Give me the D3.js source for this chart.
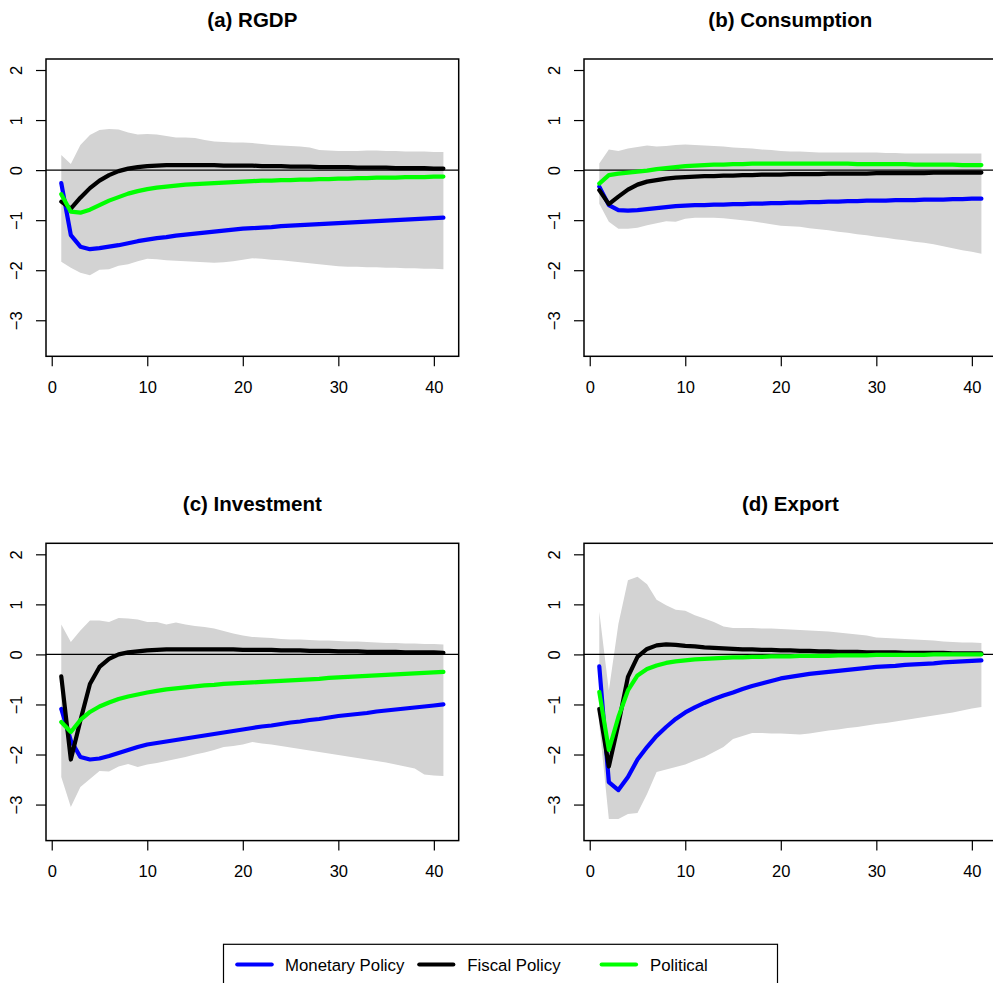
<!DOCTYPE html>
<html>
<head>
<meta charset="utf-8">
<script src="https://cdn.jsdelivr.net/npm/d3@7"></script>
<style>
  html, body { margin: 0; padding: 0; background: #ffffff; }
  svg { display: block; font-family: "Liberation Sans", Arial, Helvetica, sans-serif; }
</style>
</head>
<body>
<svg id="chart" width="993" height="983"></svg>
<script>
// Impulse horizons (periods 1..41)
const horizon = d3.range(1, 42);

const yTicks = [-3, -2, -1, 0, 1, 2];
const xTicks = [0, 10, 20, 30, 40];

const seriesNames = ["Monetary Policy", "Fiscal Policy", "Political"];
const seriesColors = ["#0000ff", "#000000", "#00ff00"];

// (a) RGDP
const rgdpMonetary = [-0.26, -1.30, -1.53, -1.58, -1.56, -1.53, -1.50, -1.46, -1.42, -1.39, -1.36, -1.34, -1.31, -1.29, -1.27, -1.25, -1.23, -1.21, -1.19, -1.17, -1.16, -1.15, -1.14, -1.12, -1.11, -1.10, -1.09, -1.08, -1.07, -1.06, -1.05, -1.04, -1.03, -1.02, -1.01, -1.00, -0.99, -0.98, -0.97, -0.96, -0.95];
const rgdpFiscal = [-0.63, -0.77, -0.55, -0.36, -0.21, -0.10, -0.02, 0.03, 0.06, 0.08, 0.09, 0.10, 0.10, 0.10, 0.10, 0.10, 0.10, 0.09, 0.09, 0.09, 0.09, 0.08, 0.08, 0.08, 0.07, 0.07, 0.07, 0.06, 0.06, 0.06, 0.06, 0.05, 0.05, 0.05, 0.05, 0.04, 0.04, 0.04, 0.04, 0.03, 0.03];
const rgdpPolitical = [-0.48, -0.83, -0.85, -0.79, -0.70, -0.61, -0.54, -0.47, -0.42, -0.38, -0.35, -0.33, -0.31, -0.29, -0.28, -0.27, -0.26, -0.25, -0.24, -0.23, -0.22, -0.21, -0.21, -0.20, -0.20, -0.19, -0.19, -0.18, -0.18, -0.17, -0.17, -0.16, -0.16, -0.15, -0.15, -0.15, -0.14, -0.14, -0.14, -0.13, -0.13];
const rgdpUpper = [0.30, 0.12, 0.50, 0.70, 0.80, 0.82, 0.81, 0.75, 0.71, 0.72, 0.71, 0.68, 0.65, 0.65, 0.64, 0.60, 0.57, 0.56, 0.55, 0.55, 0.54, 0.52, 0.50, 0.49, 0.48, 0.47, 0.45, 0.40, 0.39, 0.38, 0.38, 0.38, 0.39, 0.39, 0.38, 0.38, 0.37, 0.37, 0.37, 0.36, 0.36];
const rgdpLower = [-1.83, -1.95, -2.05, -2.10, -1.99, -1.98, -1.91, -1.88, -1.82, -1.77, -1.78, -1.80, -1.81, -1.82, -1.83, -1.84, -1.85, -1.84, -1.82, -1.79, -1.76, -1.77, -1.79, -1.80, -1.82, -1.84, -1.86, -1.88, -1.90, -1.92, -1.93, -1.93, -1.94, -1.94, -1.95, -1.95, -1.96, -1.96, -1.97, -1.97, -1.98];

// (b) Consumption
const consMonetary = [-0.33, -0.70, -0.80, -0.81, -0.80, -0.78, -0.76, -0.74, -0.72, -0.71, -0.70, -0.70, -0.69, -0.69, -0.68, -0.68, -0.67, -0.67, -0.66, -0.66, -0.65, -0.65, -0.64, -0.64, -0.63, -0.63, -0.62, -0.62, -0.61, -0.61, -0.61, -0.60, -0.60, -0.60, -0.59, -0.59, -0.59, -0.58, -0.58, -0.57, -0.57];
const consFiscal = [-0.40, -0.68, -0.53, -0.39, -0.29, -0.23, -0.20, -0.17, -0.15, -0.14, -0.13, -0.12, -0.12, -0.11, -0.11, -0.10, -0.10, -0.09, -0.09, -0.09, -0.08, -0.08, -0.08, -0.08, -0.07, -0.07, -0.07, -0.07, -0.07, -0.06, -0.06, -0.06, -0.06, -0.06, -0.06, -0.05, -0.05, -0.05, -0.05, -0.05, -0.05];
const consPolitical = [-0.27, -0.10, -0.07, -0.05, -0.03, -0.01, 0.02, 0.04, 0.06, 0.08, 0.09, 0.10, 0.11, 0.11, 0.12, 0.12, 0.13, 0.13, 0.13, 0.13, 0.13, 0.13, 0.13, 0.13, 0.13, 0.13, 0.13, 0.12, 0.12, 0.12, 0.12, 0.12, 0.12, 0.11, 0.11, 0.11, 0.11, 0.11, 0.10, 0.10, 0.10];
const consUpper = [0.13, 0.41, 0.38, 0.43, 0.46, 0.49, 0.47, 0.48, 0.50, 0.51, 0.50, 0.49, 0.48, 0.47, 0.45, 0.44, 0.43, 0.41, 0.40, 0.38, 0.37, 0.37, 0.36, 0.35, 0.35, 0.35, 0.35, 0.35, 0.35, 0.35, 0.34, 0.34, 0.33, 0.33, 0.33, 0.33, 0.33, 0.33, 0.33, 0.33, 0.33];
const consLower = [-0.67, -1.03, -1.17, -1.17, -1.15, -1.10, -1.06, -1.02, -1.03, -0.97, -0.95, -0.95, -0.95, -0.96, -0.98, -1.00, -1.02, -1.05, -1.08, -1.11, -1.12, -1.13, -1.16, -1.18, -1.20, -1.23, -1.25, -1.28, -1.30, -1.33, -1.35, -1.38, -1.40, -1.43, -1.45, -1.48, -1.52, -1.56, -1.60, -1.63, -1.67];

// (c) Investment
const invMonetary = [-1.09, -1.72, -2.05, -2.10, -2.08, -2.03, -1.97, -1.91, -1.85, -1.80, -1.77, -1.74, -1.71, -1.68, -1.65, -1.62, -1.59, -1.56, -1.53, -1.50, -1.47, -1.44, -1.42, -1.39, -1.36, -1.34, -1.31, -1.29, -1.26, -1.23, -1.21, -1.19, -1.17, -1.14, -1.12, -1.10, -1.08, -1.06, -1.04, -1.02, -1.00];
const invFiscal = [-0.44, -2.10, -1.32, -0.59, -0.25, -0.09, 0.00, 0.04, 0.06, 0.08, 0.09, 0.10, 0.10, 0.10, 0.10, 0.10, 0.10, 0.10, 0.10, 0.09, 0.09, 0.09, 0.09, 0.08, 0.08, 0.08, 0.07, 0.07, 0.07, 0.06, 0.06, 0.06, 0.05, 0.05, 0.05, 0.05, 0.04, 0.04, 0.04, 0.04, 0.03];
const invPolitical = [-1.35, -1.55, -1.31, -1.15, -1.04, -0.96, -0.89, -0.84, -0.80, -0.76, -0.73, -0.70, -0.68, -0.66, -0.64, -0.62, -0.61, -0.59, -0.58, -0.57, -0.56, -0.55, -0.54, -0.53, -0.52, -0.51, -0.50, -0.49, -0.47, -0.46, -0.45, -0.44, -0.43, -0.42, -0.41, -0.40, -0.39, -0.38, -0.37, -0.36, -0.35];
const invUpper = [0.60, 0.25, 0.48, 0.68, 0.68, 0.65, 0.73, 0.72, 0.70, 0.65, 0.65, 0.60, 0.64, 0.60, 0.57, 0.55, 0.52, 0.47, 0.42, 0.38, 0.35, 0.34, 0.33, 0.31, 0.30, 0.30, 0.29, 0.28, 0.28, 0.27, 0.26, 0.26, 0.25, 0.24, 0.23, 0.23, 0.22, 0.22, 0.21, 0.21, 0.20];
const invLower = [-2.45, -3.05, -2.65, -2.49, -2.33, -2.34, -2.24, -2.19, -2.25, -2.20, -2.17, -2.13, -2.09, -2.05, -2.00, -1.96, -1.91, -1.85, -1.83, -1.80, -1.75, -1.78, -1.80, -1.83, -1.86, -1.89, -1.92, -1.95, -1.98, -2.01, -2.04, -2.07, -2.10, -2.13, -2.16, -2.20, -2.24, -2.28, -2.40, -2.42, -2.43];

// (d) Export
const expMonetary = [-0.24, -2.55, -2.71, -2.45, -2.10, -1.85, -1.63, -1.45, -1.29, -1.16, -1.06, -0.97, -0.89, -0.82, -0.76, -0.69, -0.63, -0.58, -0.53, -0.48, -0.45, -0.42, -0.39, -0.37, -0.35, -0.33, -0.31, -0.29, -0.27, -0.25, -0.24, -0.23, -0.21, -0.20, -0.19, -0.18, -0.16, -0.15, -0.14, -0.13, -0.12];
const expFiscal = [-1.09, -2.24, -1.39, -0.45, -0.05, 0.11, 0.18, 0.20, 0.19, 0.17, 0.16, 0.14, 0.13, 0.12, 0.11, 0.10, 0.10, 0.09, 0.09, 0.08, 0.08, 0.07, 0.07, 0.06, 0.06, 0.05, 0.05, 0.05, 0.04, 0.04, 0.04, 0.04, 0.03, 0.03, 0.03, 0.03, 0.03, 0.02, 0.02, 0.02, 0.02];
const expPolitical = [-0.75, -1.91, -1.25, -0.72, -0.42, -0.29, -0.22, -0.17, -0.14, -0.12, -0.10, -0.09, -0.08, -0.07, -0.06, -0.06, -0.05, -0.05, -0.04, -0.04, -0.04, -0.03, -0.03, -0.03, -0.03, -0.02, -0.02, -0.02, -0.02, -0.01, -0.01, -0.01, -0.01, -0.01, -0.01, 0.00, 0.00, 0.00, 0.00, 0.00, 0.00];
const expUpper = [0.85, -0.72, 0.61, 1.48, 1.55, 1.40, 1.09, 0.98, 0.89, 0.87, 0.78, 0.72, 0.65, 0.56, 0.53, 0.53, 0.53, 0.52, 0.52, 0.51, 0.50, 0.49, 0.48, 0.47, 0.46, 0.44, 0.42, 0.40, 0.38, 0.34, 0.33, 0.32, 0.31, 0.30, 0.29, 0.28, 0.26, 0.25, 0.24, 0.24, 0.23];
const expLower = [-1.40, -3.29, -3.29, -3.19, -3.17, -2.79, -2.35, -2.30, -2.25, -2.20, -2.12, -2.05, -1.95, -1.85, -1.69, -1.63, -1.57, -1.57, -1.58, -1.58, -1.59, -1.60, -1.58, -1.55, -1.52, -1.50, -1.47, -1.45, -1.42, -1.39, -1.37, -1.34, -1.31, -1.28, -1.25, -1.22, -1.19, -1.16, -1.12, -1.08, -1.05];

const panels = [
  { title: "(a) RGDP",        lines: [rgdpMonetary, rgdpFiscal, rgdpPolitical], upper: rgdpUpper, lower: rgdpLower, left: 46,  top: 59 },
  { title: "(b) Consumption", lines: [consMonetary, consFiscal, consPolitical], upper: consUpper, lower: consLower, left: 584, top: 59 },
  { title: "(c) Investment",  lines: [invMonetary, invFiscal, invPolitical],    upper: invUpper,  lower: invLower,  left: 46,  top: 543.3 },
  { title: "(d) Export",      lines: [expMonetary, expFiscal, expPolitical],    upper: expUpper,  lower: expLower,  left: 584, top: 543.3 }
];

const plotW = 412.7, plotH = 297.3;
const tickLen = 10;
const svg = d3.select("#chart");
const intFormat = d3.format("d");

// base-graphics style 4% padding on both axes
const xPad = (41 - 1) * 0.04;
const yLim = [-3.5, 2];
const yPad = (yLim[1] - yLim[0]) * 0.04;

panels.forEach(p => {
  const x = d3.scaleLinear().domain([1 - xPad, 41 + xPad]).range([p.left, p.left + plotW]);
  const y = d3.scaleLinear().domain([yLim[0] - yPad, yLim[1] + yPad]).range([p.top + plotH, p.top]);
  const g = svg.append("g");

  // confidence band
  const area = d3.area()
    .x((d, i) => x(horizon[i]))
    .y0((d, i) => y(p.lower[i]))
    .y1(d => y(d));
  g.append("path")
    .datum(p.upper)
    .attr("d", area)
    .attr("fill", "#d3d3d3")
    .attr("stroke", "none");

  // zero reference line
  g.append("line")
    .attr("x1", p.left).attr("x2", p.left + plotW)
    .attr("y1", y(0)).attr("y2", y(0))
    .attr("stroke", "#000").attr("stroke-width", 1.2);

  // response lines
  const line = d3.line().x((d, i) => x(horizon[i])).y(d => y(d));
  p.lines.forEach((vals, k) => {
    g.append("path")
      .datum(vals)
      .attr("d", line)
      .attr("fill", "none")
      .attr("stroke", seriesColors[k])
      .attr("stroke-width", 4.2)
      .attr("stroke-linecap", "round")
      .attr("stroke-linejoin", "round");
  });

  // plot frame
  g.append("rect")
    .attr("x", p.left).attr("y", p.top)
    .attr("width", plotW).attr("height", plotH)
    .attr("fill", "none").attr("stroke", "#000").attr("stroke-width", 1.5);

  // y axis
  const ya = g.append("g")
    .attr("transform", `translate(${p.left},0)`)
    .call(d3.axisLeft(y).tickValues(yTicks).tickFormat(intFormat).tickSize(tickLen).tickSizeOuter(0));
  ya.select(".domain").remove();
  ya.selectAll(".tick line").attr("stroke", "#000").attr("stroke-width", 1.2);
  ya.selectAll(".tick text")
    .attr("transform", "rotate(-90)")
    .attr("x", 0)
    .attr("y", -29.5)
    .attr("dy", "0.36em")
    .attr("text-anchor", "middle")
    .attr("fill", "#000")
    .style("font-size", "16.5px")
    .style("font-family", "'Liberation Sans', Arial, sans-serif");

  // x axis
  const xa = g.append("g")
    .attr("transform", `translate(0,${p.top + plotH})`)
    .call(d3.axisBottom(x).tickValues(xTicks).tickFormat(intFormat).tickSize(tickLen).tickSizeOuter(0).tickPadding(15));
  xa.select(".domain").remove();
  xa.selectAll(".tick line").attr("stroke", "#000").attr("stroke-width", 1.2);
  xa.selectAll(".tick text")
    .attr("fill", "#000")
    .style("font-size", "16.5px")
    .style("font-family", "'Liberation Sans', Arial, sans-serif");

  // panel title
  g.append("text")
    .attr("x", p.left + plotW / 2)
    .attr("y", p.top - 32)
    .attr("text-anchor", "middle")
    .style("font-size", "20.5px")
    .style("font-weight", "bold")
    .text(p.title);
});

// legend
const legend = svg.append("g");
legend.append("rect")
  .attr("x", 223.5).attr("y", 944.3)
  .attr("width", 554).attr("height", 60)
  .attr("fill", "#fff").attr("stroke", "#000").attr("stroke-width", 1.2);
const legendItems = [
  { x1: 237.3, x2: 271.7, tx: 285 },
  { x1: 419.3, x2: 453.3, tx: 467.3 },
  { x1: 601.7, x2: 636,   tx: 650 }
];
seriesNames.forEach((name, k) => {
  const it = legendItems[k];
  legend.append("line")
    .attr("x1", it.x1).attr("x2", it.x2)
    .attr("y1", 964.5).attr("y2", 964.5)
    .attr("stroke", seriesColors[k]).attr("stroke-width", 4.2)
    .attr("stroke-linecap", "round");
  legend.append("text")
    .attr("x", it.tx).attr("y", 970.5)
    .style("font-size", "16.8px")
    .text(name);
});
</script>
</body>
</html>
